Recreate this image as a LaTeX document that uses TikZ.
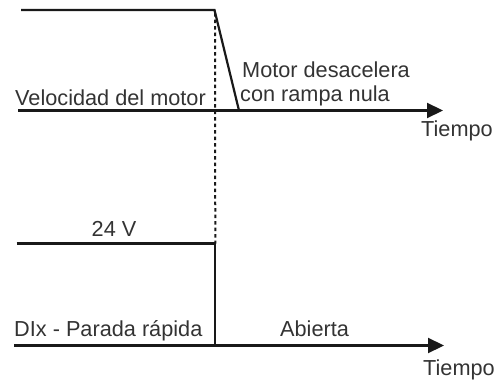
\documentclass[tikz,border=0pt]{standalone}
\usepackage{fontspec}
\setmainfont{Liberation Sans}
\usetikzlibrary{arrows.meta}
\begin{document}
\begin{tikzpicture}[x=1pt,y=-1pt,
  sig/.style={line width=2.2pt, black!90},
  axis/.style={line width=2.2pt, black!90, -{Triangle[length=16pt,width=15pt]}},
  lbl/.style={anchor=base west, inner sep=0pt, text=black!80, font=\fontsize{21.7}{26}\selectfont},
  guide/.style={line width=2pt, black!90, dash pattern=on 3.5pt off 3pt}]
\useasboundingbox (0,0) rectangle (499,383);
% top chart
\coordinate (s0) at (21,10);
\coordinate (s1) at (214.5,10);
\coordinate (s2) at (239,110.5);
\coordinate (a0) at (18,110.5);
\coordinate (a1) at (443,110.5);
\draw[sig] (s0) -- (s1) -- (s2);
\draw[axis] (a0) -- (a1);
\node[lbl] (vel) at (15,105) {Velocidad del motor};
\node[lbl] (mot) at (242,77) {Motor desacelera};
\node[lbl] (ram) at (240,101.5) {con rampa nula};
\node[lbl] (t1) at (421,136.5) {Tiempo};
% bottom chart
\coordinate (d0) at (16.5,243.5);
\coordinate (d1) at (215.3,243.5);
\coordinate (d2) at (215.3,345.5);
\coordinate (b0) at (14,345.5);
\coordinate (b1) at (444,345.5);
\draw[sig] (d0) -- (d1) -- (d2);
\draw[axis] (b0) -- (b1);
\node[lbl] (v24) at (91.5,236.5) {24 V};
\node[lbl] (dix) at (14,336.5) {DIx - Parada rápida};
\node[lbl] (abi) at (280,336.5) {Abierta};
\node[lbl] (t2) at (423,375.5) {Tiempo};
% dotted guide
\draw[guide] (215,13) -- (d1);
\end{tikzpicture}
\end{document}
